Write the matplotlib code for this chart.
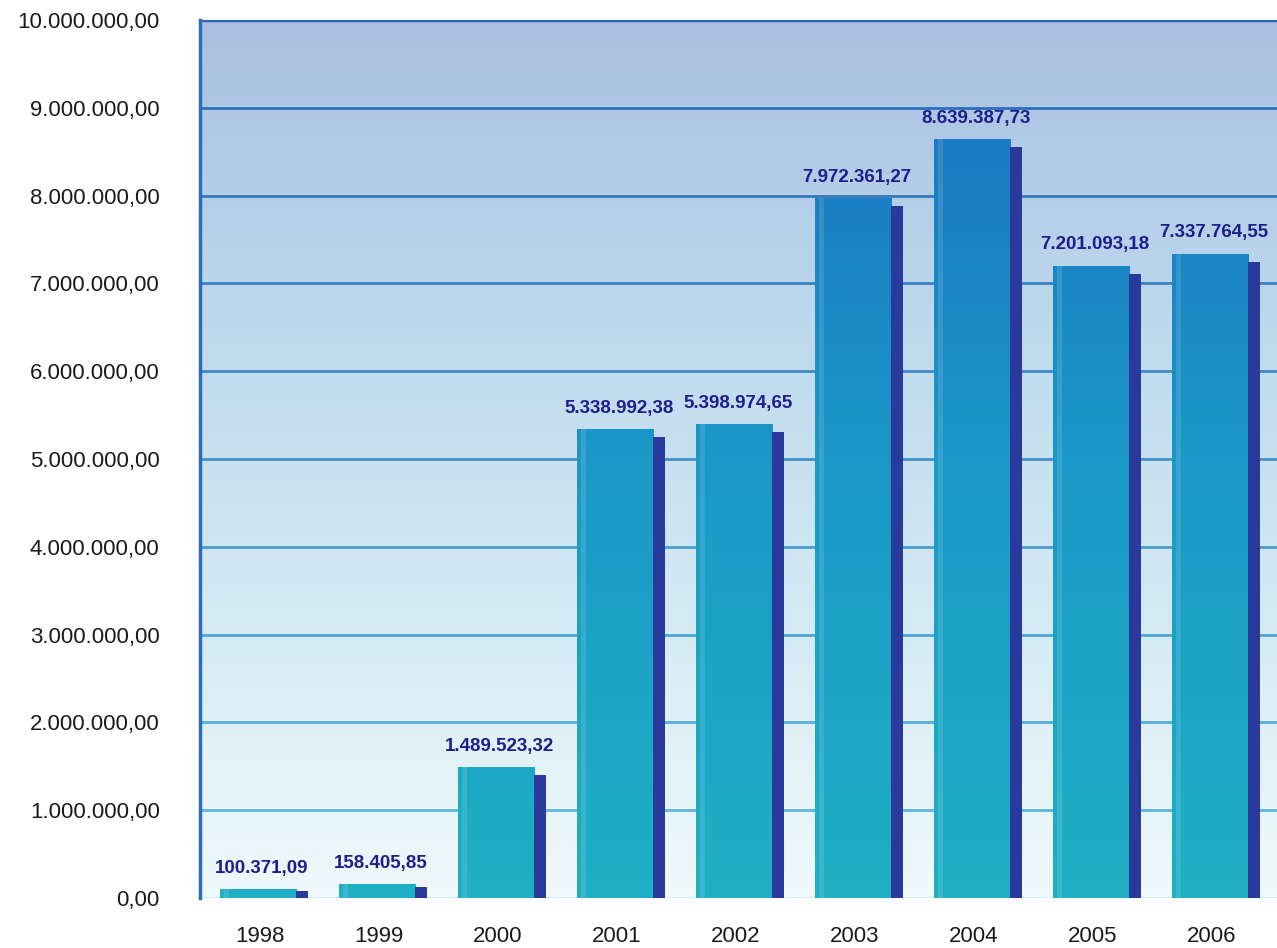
import numpy as np
import matplotlib
matplotlib.use("Agg")
import matplotlib.pyplot as plt
from matplotlib.colors import LinearSegmentedColormap, to_rgb
from matplotlib.patches import Rectangle

# dados
anos = ["1998", "1999", "2000", "2001", "2002", "2003", "2004", "2005", "2006"]
valores = [100371.09, 158405.85, 1489523.32, 5338992.38, 5398974.65,
           7972361.27, 8639387.73, 7201093.18, 7337764.55]
rotulos = ["100.371,09", "158.405,85", "1.489.523,32", "5.338.992,38", "5.398.974,65",
           "7.972.361,27", "8.639.387,73", "7.201.093,18", "7.337.764,55"]
yticks = [i * 1_000_000 for i in range(11)]
ytick_labels = ["0,00", "1.000.000,00", "2.000.000,00", "3.000.000,00", "4.000.000,00",
                "5.000.000,00", "6.000.000,00", "7.000.000,00", "8.000.000,00",
                "9.000.000,00", "10.000.000,00"]

plt.rcParams['font.family'] = ['Liberation Sans', 'DejaVu Sans']

fig = plt.figure(figsize=(12.77, 9.48), dpi=100)
ax = fig.add_axes([200 / 1277, 1 - 898 / 948, 1 - 200 / 1277, (898 - 20) / 948])

YMAX = 10_000_000
ax.set_xlim(-0.5, 8.55)
ax.set_ylim(0, YMAX)

# fundo em degradê
fundo = LinearSegmentedColormap.from_list("fundo", ["#f0f9fb", "#d2eaf4", "#bcd8ec", "#a9c0e2"])
grad = np.linspace(0, 1, 256).reshape(-1, 1)
ax.imshow(grad, extent=(-0.5, 8.55, 0, YMAX), origin="lower", aspect="auto",
          cmap=fundo, zorder=0)

# grade horizontal
c_baixo = np.array(to_rgb("#62c0de"))
c_alto = np.array(to_rgb("#2a66b4"))
for v in yticks[1:]:
    t = v / YMAX
    cor = c_baixo * (1 - t) + c_alto * t
    ax.axhline(v, color=cor, lw=2.5 if v == YMAX else 2, zorder=1)
ax.axhline(0, color="#d6ecf4", lw=1.5, zorder=1)

# barras
barras = LinearSegmentedColormap.from_list("barras", ["#1fb0c4", "#1a98c8", "#1a6ec0"])
larg_frente = 0.64
larg_lado = 0.10
for i, v in enumerate(valores):
    x0 = i - 0.33
    frente = Rectangle((x0, 0), larg_frente, v, facecolor="none", edgecolor="none")
    ax.add_patch(frente)
    im = ax.imshow(grad, extent=(x0, x0 + larg_frente, 0, YMAX), origin="lower",
                   aspect="auto", cmap=barras, zorder=2)
    im.set_clip_path(frente)
    # faixa clara à esquerda
    ax.add_patch(Rectangle((x0 + 0.03, 0), 0.04, v, facecolor="white", alpha=0.12,
                           edgecolor="none", zorder=3))
    lado_h = max(v - 90000, v * 0.8)
    ax.add_patch(Rectangle((x0 + larg_frente, 0), larg_lado, lado_h,
                           facecolor="#2a3a9c", edgecolor="none", zorder=3))
    ax.text(i + 0.02, v + 140000, rotulos[i], ha="center", va="bottom", fontsize=13.5,
            fontweight="bold", color="#1e1e8e", zorder=4)

ax.set_yticks(yticks)
ax.set_yticklabels(ytick_labels, fontsize=16, color="#1a1a1a")
ax.set_xticks(range(len(anos)))
ax.set_xticklabels(anos, fontsize=16, color="#1a1a1a")
ax.tick_params(axis="y", length=0, pad=29)
ax.tick_params(axis="x", length=0, pad=20)

for s in ["top", "right", "bottom"]:
    ax.spines[s].set_visible(False)
ax.spines["left"].set_color("#2e6cb6")
ax.spines["left"].set_linewidth(2.5)
ax.spines["left"].set_zorder(5)

fig.savefig("out.png", dpi=100)
